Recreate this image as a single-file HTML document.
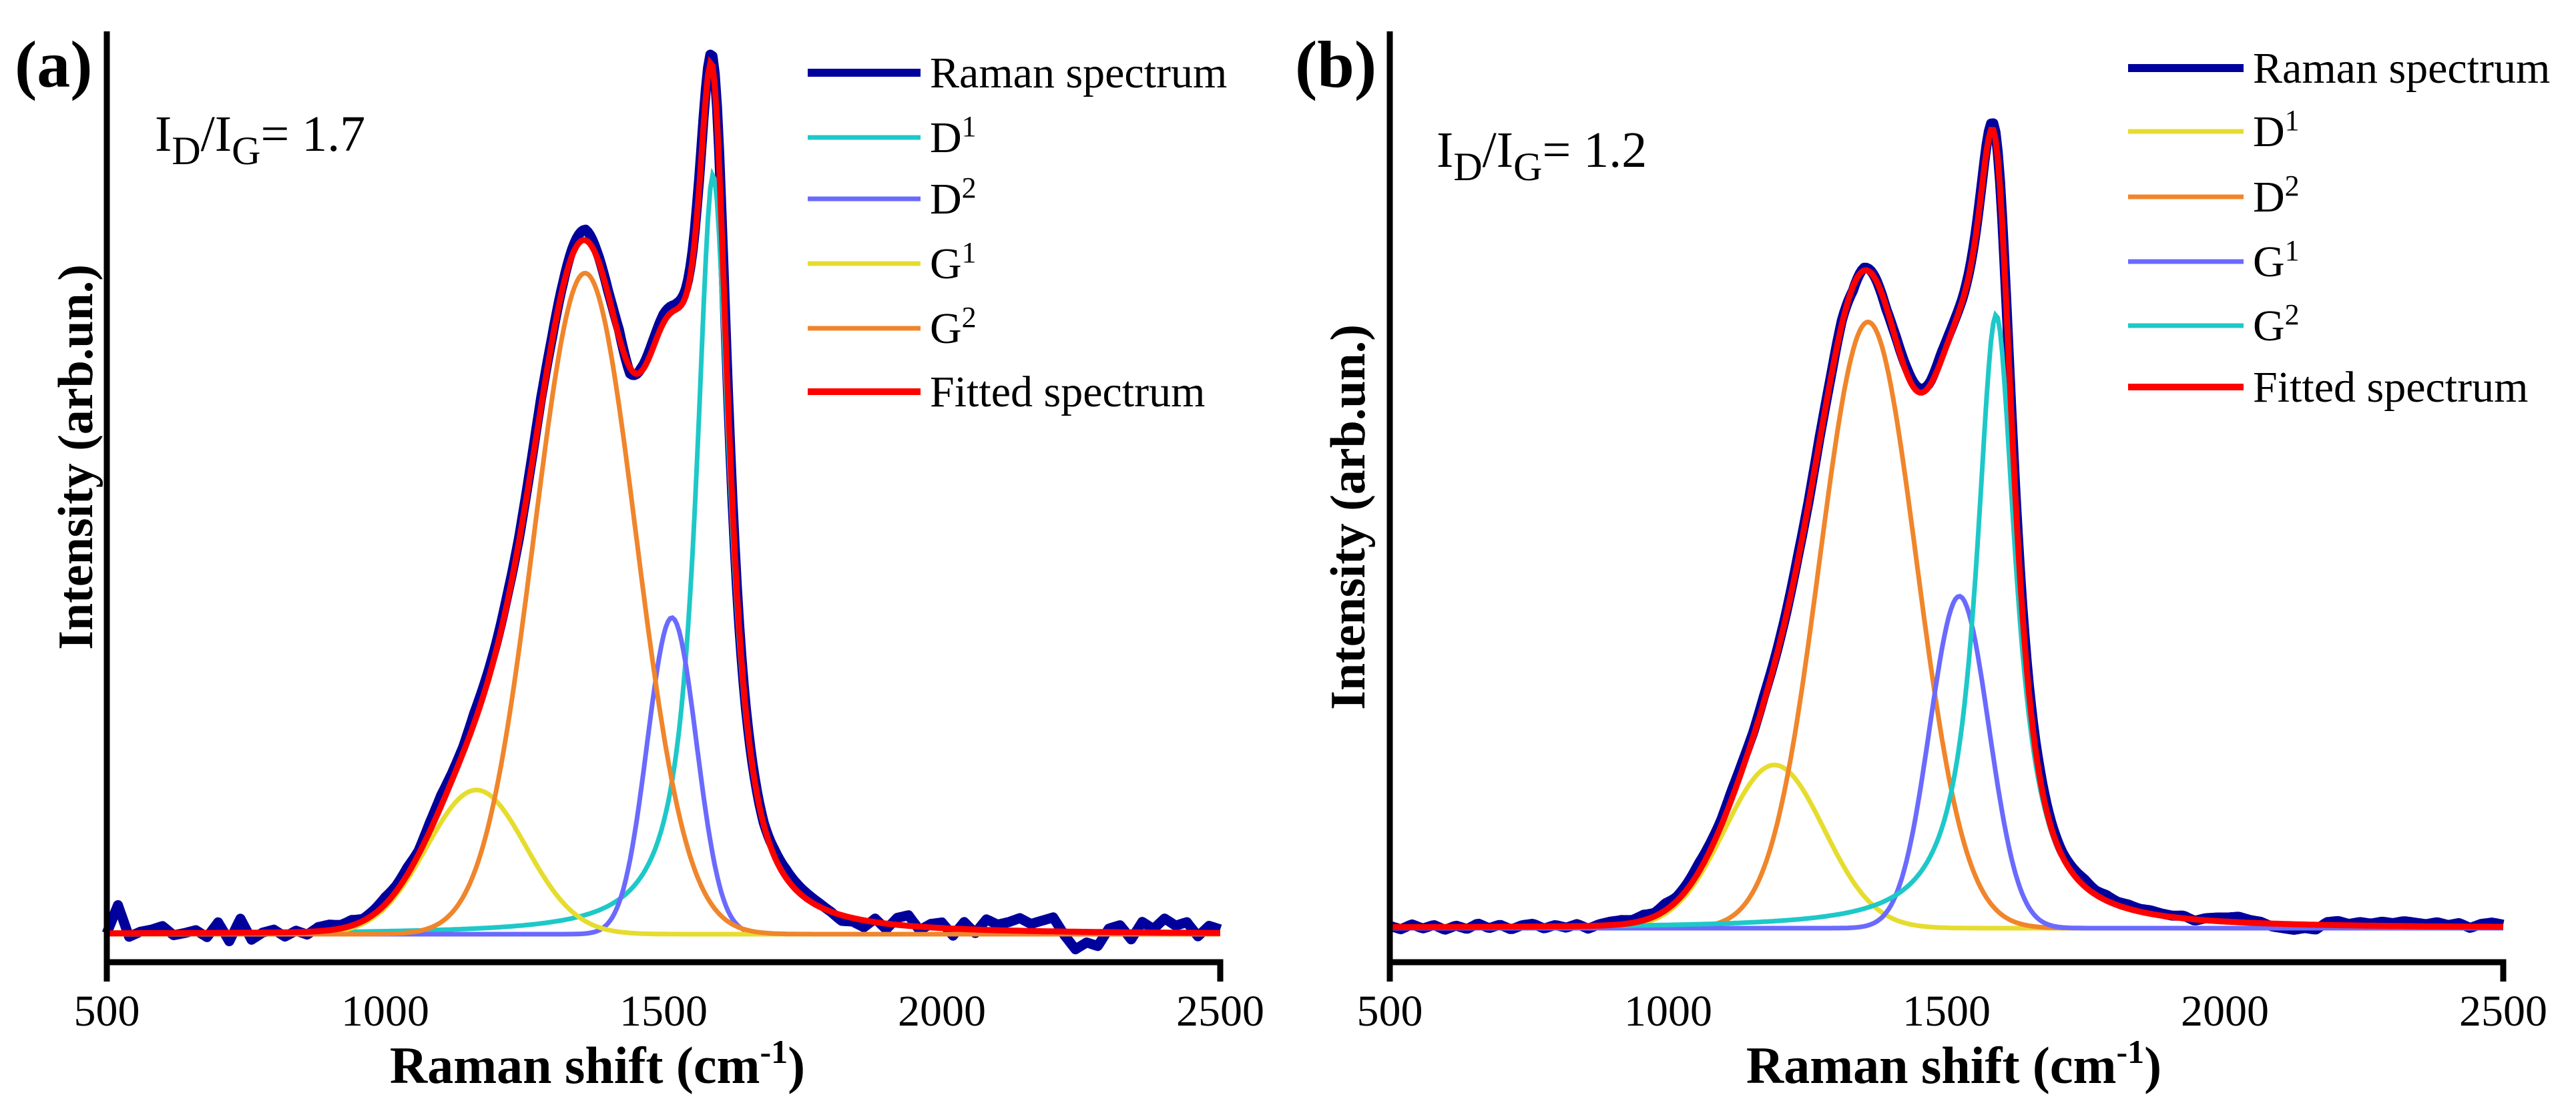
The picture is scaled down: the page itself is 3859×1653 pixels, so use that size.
<!DOCTYPE html>
<html><head><meta charset="utf-8">
<style>
html,body{margin:0;padding:0;background:#fff;}
svg{display:block;font-family:"Liberation Serif",serif;}
</style></head>
<body>
<svg id="fig" width="3859" height="1653" viewBox="0 0 3859 1653"></svg>
<script>
// ---------- data ----------
const xTicks = [500, 1000, 1500, 2000, 2500];
// panel (a)
const aNames = ["D1", "D2", "G1", "G2"];
const aCenters = [1589, 1515, 1164, 1359];
const aHeights = [1080, 450, 205, 940];
const aWidths = [74, 104, 210, 215];
const aShapes = ["L", "G", "G", "G"];
const aColors = ["#1ec8c8", "#6a6aff", "#e6dc2e", "#f0852b"];
const aResidual = [0,40,-5,2,5,10, -3,0,4,-6,15,-12,20, -10,0,4,-6,2,-4,6,8, 5,8,3,6,10,
 8,10,5,12,15,10,8,14,12,10, 10,5,8,12,5,5,10,15,8,5, 10,-8,5,10,12, 8,10,15,10,20,10,5,
 5,3,10,12,10,8,5,0, -8,-5,-10,5,-8,10,15,-5,5,8, -10,10,-5,15,8,12,18,10,15,20,
 -5,-25,-15,-20,5,10,-10,15,5,20, 10,15,-5,10,5];
// panel (b)
const bNames = ["D1", "D2", "G1", "G2"];
const bCenters = [1191, 1359, 1523, 1589];
const bHeights = [232, 862, 472, 872];
const bWidths = [210, 205, 125, 86];
const bShapes = ["G", "G", "G", "L"];
const bColors = ["#e6dc2e", "#f0852b", "#6a6aff", "#1ec8c8"];
const bResidual = [2,-3,4,-2,3,-4,2,-3,5,-2,3,-4,2,4,-3,2,-2,3,-4,2,5,
 6,4,8,5,10,6,8,12,10,8,12,10,6,8,5,4,6,3,5,2,
 6,-6,4,2,-3,5,8,6,4,10,6,3,5,8,10,6,8,10,12,8,
 6,8,10,6,8,5,6,4,5,3,2,4,-2,3,5,6,8,4,2,-4,
 -6,-8,-5,-7,4,6,2,5,3,6,4,7,5,3,6,2,5,-2,4,6,3];

const labelsA = ["Raman spectrum","D","D","G","G","Fitted spectrum"];
const supA = ["","1","2","1","2",""];
const labelsB = ["Raman spectrum","D","D","G","G","Fitted spectrum"];
const supB = ["","1","2","1","2",""];

const NS = "http://www.w3.org/2000/svg";
const svg = document.getElementById("fig");
function mk(tag, attrs, parent){const e=document.createElementNS(NS,tag);for(const k in attrs)e.setAttribute(k,attrs[k]);(parent||svg).appendChild(e);return e;}

function comp(x, c, h, w, s){
  if(s==="L"){const g=w/2;return h*g*g/(g*g+(x-c)*(x-c));}
  const sg=w/2.3548;return h*Math.exp(-(x-c)*(x-c)/(2*sg*sg));
}

function panel(cfg){
  const g = mk("g", {});
  
  
  const X = v => cfg.x0 + (v-500)/2000*(cfg.x1-cfg.x0);
  const Y = v => cfg.y0 - v*1.054;
  const fit = x => { let s=0; for(let i=0;i<cfg.centers.length;i++) s+=comp(x,cfg.centers[i],cfg.heights[i],cfg.widths[i],cfg.shapes[i]); return s; };
  const res = x => { const n=cfg.residual.length-1; const t=(x-500)/2000*n; const i=Math.min(n-1,Math.floor(t)); const f=t-i; return cfg.residual[i]*(1-f)+cfg.residual[i+1]*f; };
  let d="";
  for(let x=500;x<=2500;x+=4){d+=(x===500?"M":"L")+X(x).toFixed(1)+" "+Y(fit(x)+res(x)).toFixed(1);}
  const r=mk("path",{d:d,fill:"none",stroke:"#00009c","stroke-width":15,"stroke-linejoin":"round"},g);
  
  
  for(let i=0;i<cfg.centers.length;i++){
    let p="";
    for(let x=500;x<=2500;x+=4){p+=(x===500?"M":"L")+X(x).toFixed(1)+" "+Y(comp(x,cfg.centers[i],cfg.heights[i],cfg.widths[i],cfg.shapes[i])).toFixed(1);}
    const c=mk("path",{d:p,fill:"none",stroke:cfg.colors[i],"stroke-width":7},g);
    
    
  }
  let f="";
  for(let x=500;x<=2500;x+=4){f+=(x===500?"M":"L")+X(x).toFixed(1)+" "+Y(fit(x)).toFixed(1);}
  const fl=mk("path",{d:f,fill:"none",stroke:"#ff0000","stroke-width":9},g);
  
  
  const ya=mk("line",{x1:cfg.x0,y1:47,x2:cfg.x0,y2:1471,stroke:"#000","stroke-width":9},g);
  
  
  const xa=mk("path",{d:`M${cfg.x0} 1442 H${cfg.x1} V1471`,fill:"none",stroke:"#000","stroke-width":9},g);
  
  
  for(const t of xTicks){
    const tl=mk("text",{x:X(t),y:1537,"font-size":66,"text-anchor":"middle"},g);
    tl.textContent=t;
    
    
  }
  const xt=mk("text",{x:cfg.xTitleX,y:1623,"font-size":78,"font-weight":"bold","text-anchor":"middle"},g);
  xt.innerHTML='Raman shift (cm<tspan dy="-30" font-size="50">-1</tspan><tspan dy="30">)</tspan>';
  
  
  const yt=mk("text",{x:0,y:0,"font-size":74,"font-weight":"bold","text-anchor":"middle",transform:`translate(${cfg.yTitleX},${cfg.yTitleY}) rotate(-90)`},g);
  yt.textContent="Intensity (arb.un.)";
  
  
  const pl=mk("text",{x:cfg.letterX,y:130,"font-size":100,"font-weight":"bold"},g);
  pl.textContent=cfg.letter;
  
  
  const rt=mk("text",{x:cfg.ratioX,y:cfg.ratioY,"font-size":76},g);
  rt.innerHTML='I<tspan dy="20" font-size="60">D</tspan><tspan dy="-20">/I</tspan><tspan dy="20" font-size="60">G</tspan><tspan dy="-20">= '+cfg.ratio+'</tspan>';
  
  
  const lc=["#00009c"].concat(cfg.colors).concat(["#ff0000"]);
  const lw=[12,7,7,7,7,10];
  for(let i=0;i<6;i++){
    const cy=cfg.legY[i];
    const ll=mk("line",{x1:cfg.legX0,y1:cy,x2:cfg.legX1,y2:cy,stroke:lc[i],"stroke-width":lw[i]},g);
    
    
    const lt=mk("text",{x:cfg.legX1+14,y:cy+22,"font-size":66},g);
    lt.innerHTML=cfg.labels[i]+(cfg.sups[i]?'<tspan dy="-24" font-size="44">'+cfg.sups[i]+'</tspan>':'');
    
    
  }
}

panel({id:"panel-a",x0:160,x1:1828,y0:1400,centers:aCenters,heights:aHeights,widths:aWidths,shapes:aShapes,colors:aColors,names:aNames,residual:aResidual,
  xTitleX:895,yTitleX:138,yTitleY:685,letter:"(a)",letterX:22,ratio:"1.7",ratioX:232,ratioY:226,
  legX0:1210,legX1:1379,legY:[109,206,298,395,492,587],labels:labelsA,sups:supA});
panel({id:"panel-b",x0:2082,x1:3750,y0:1391,centers:bCenters,heights:bHeights,widths:bWidths,shapes:bShapes,colors:bColors,names:bNames,residual:bResidual,
  xTitleX:2927,yTitleX:2044,yTitleY:775,letter:"(b)",letterX:1940,ratio:"1.2",ratioX:2152,ratioY:250,
  legX0:3188,legX1:3361,legY:[102,197,295,392,488,580],labels:labelsB,sups:supB});
</script>
</body></html>
